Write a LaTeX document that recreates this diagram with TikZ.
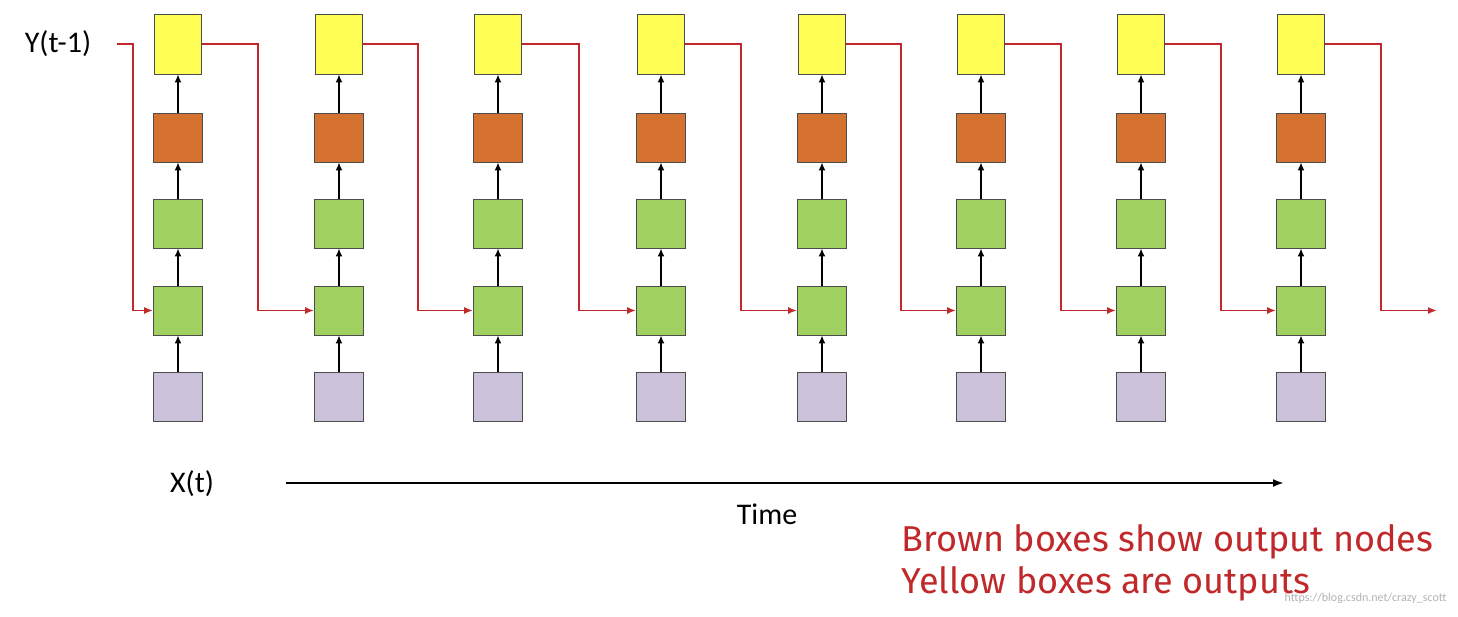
\documentclass[tikz,border=0pt]{standalone}
\usepackage{fontspec}
\setmainfont{Carlito}
\newfontfamily\redf{Fira Sans}
\usetikzlibrary{arrows.meta}
\definecolor{yel}{HTML}{FFFF55}
\definecolor{brn}{HTML}{D57230}
\definecolor{grn}{HTML}{A0D060}
\definecolor{pur}{HTML}{CBC1D9}
\definecolor{rd}{HTML}{C0282A}
\begin{document}
\begin{tikzpicture}[x=1pt,y=-1pt,
 box/.style={draw=black!70,line width=0.8pt,minimum width=49pt,minimum height=49pt,inner sep=0pt},
 yb/.style={box,fill=yel,minimum width=47pt,minimum height=60pt},
 up/.style={-{Latex[length=8pt,width=7pt]},line width=1.8pt},
 rec/.style={-{Latex[length=9pt,width=7pt]},draw=rd,line width=1.8pt}]
\useasboundingbox (0,0) rectangle (1458,616);
\node[font=\fontsize{30}{34}\selectfont] (y0) at (58,44) {Y(t-1)};
\coordinate (s0) at (117,44);
\foreach \i/\x in {1/178,2/339,3/498,4/661,5/822,6/981,7/1141,8/1301}{
 \node[yb] (y\i) at (\x,44) {};
 \node[box,fill=brn] (b\i) at (\x,137.5) {};
 \node[box,fill=grn] (g\i) at (\x,223.5) {};
 \node[box,fill=grn] (h\i) at (\x,310.5) {};
 \node[box,fill=pur] (p\i) at (\x,396.5) {};
 \draw[up] (p\i) -- (h\i);
 \draw[up] (h\i) -- (g\i);
 \draw[up] (g\i) -- (b\i);
 \draw[up] (b\i) -- (y\i);
}
\draw[rec] (s0) -| (133,310.5) -- (h1.west);
\foreach \a/\b/\x in {1/2/258,2/3/418,3/4/579,4/5/741,5/6/901,6/7/1061,7/8/1221}{
 \draw[rec] (y\a.east) -| (\x,310.5) -- (h\b.west);
}
\coordinate (e) at (1437,310.5);
\draw[rec] (y8.east) -| (1381,310.5) -- (e);
\node[font=\fontsize{30}{34}\selectfont] (xt) at (192,484) {X(t)};
\coordinate (t0) at (286,483);
\coordinate (t1) at (1284,483);
\draw[-{Latex[length=11pt,width=8pt]},line width=2.2pt] (t0) -- (t1);
\node[font=\fontsize{30}{34}\selectfont] (tm) at (767,514) {Time};
\node[anchor=west,text=rd,font=\redf\fontsize{36}{40}\selectfont] (r1) at (898,542) {Brown boxes show output nodes};
\node[anchor=west,text=rd,font=\redf\fontsize{36}{40}\selectfont] (r2) at (898,584) {Yellow boxes are outputs};
\node[anchor=east,text=black!30,font=\fontsize{12}{14}\selectfont] (wm) at (1450,598) {https://blog.csdn.net/crazy\_scott};
\end{tikzpicture}
\end{document}
